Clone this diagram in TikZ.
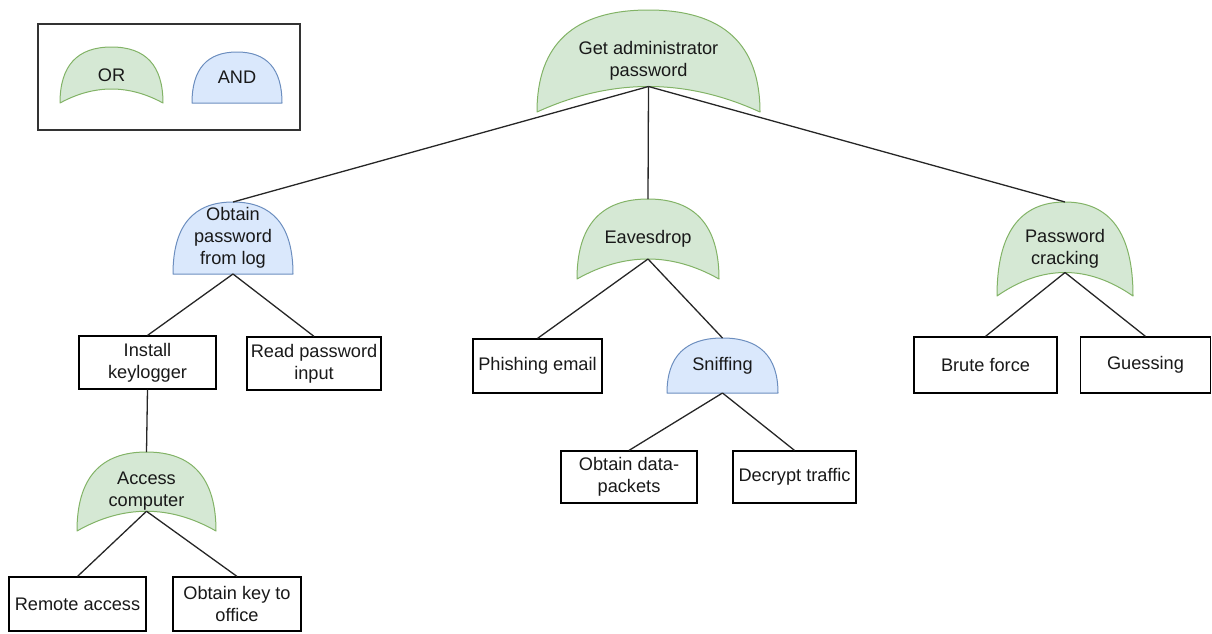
\documentclass[tikz,border=0pt]{standalone}
\usepackage{fontspec}
\setmainfont{Liberation Sans}
\definecolor{orfill}{HTML}{D5E8D4}
\definecolor{ordraw}{HTML}{82B366}
\definecolor{andfill}{HTML}{DAE8FC}
\definecolor{anddraw}{HTML}{6C8EBF}

% OR gate: dome with a concave base; #1 name, #2 left, #3 top, #4 right, #5 bottom, #6 text
\newcommand{\orgate}[6]{%
  \pgfmathsetmacro\gM{(#2+#4)/2}%
  \pgfmathsetmacro\gW{(#4-#2)/3}%
  \pgfmathsetmacro\gH{(#5-#3)/3}%
  \path[orstyle] (#2,#5) .. controls (#2,#5-2*\gH) and (\gM-\gW,#3) .. (\gM,#3)
    .. controls (\gM+\gW,#3) and (#4,#5-2*\gH) .. (#4,#5)
    .. controls (#4-\gW,#5-\gH) and (#2+\gW,#5-\gH) .. (#2,#5) -- cycle;
  \coordinate (#1-in) at (\gM,#3);
  \coordinate (#1-out) at (\gM,#5-0.75*\gH);
  \node[gatetext] (#1) at (\gM,{(#3+#5)/2}) {#6};%
}
% AND gate: dome with a flat base
\newcommand{\andgate}[6]{%
  \pgfmathsetmacro\gM{(#2+#4)/2}%
  \pgfmathsetmacro\gW{(#4-#2)/3}%
  \pgfmathsetmacro\gH{(#5-#3)/3}%
  \path[andstyle] (#2,#5) .. controls (#2,#5-2*\gH) and (\gM-\gW,#3) .. (\gM,#3)
    .. controls (\gM+\gW,#3) and (#4,#5-2*\gH) .. (#4,#5) -- cycle;
  \coordinate (#1-in) at (\gM,#3);
  \coordinate (#1-out) at (\gM,#5);
  \node[gatetext] (#1) at (\gM,{(#3+#5)/2}) {#6};%
}

\begin{document}
\begin{tikzpicture}[x=1pt,y=-1pt,
  txt/.style={font=\fontsize{18.2}{21.8}\selectfont, text=black!90, align=center, inner sep=0pt},
  gatetext/.style={txt},
  orstyle/.style={fill=orfill, draw=ordraw, line width=1pt, line join=round},
  andstyle/.style={fill=andfill, draw=anddraw, line width=1pt, line join=round},
  leaf/.style={txt, draw=black, fill=white, line width=1.2pt, rectangle},
  link/.style={draw=black!85, line width=1.3pt},
  legendbox/.style={draw=black!80, line width=1.5pt}]

\useasboundingbox (0,0) rectangle (1212,633);

% legend
\draw[legendbox] (38,24) rectangle (300,130);
\orgate{legor}{60}{47}{163}{103}{OR}
\andgate{legand}{192}{52}{282}{103}{AND}

% gates
\orgate{root}{537}{10}{760}{112}{Get administrator\\password}
\andgate{oplog}{173}{202}{293}{274}{Obtain\\password\\from log}
\orgate{eaves}{577}{199}{719}{279}{Eavesdrop}
\orgate{pcrack}{997}{202}{1133}{296}{Password\\cracking}
\andgate{sniff}{667}{338}{778}{393}{Sniffing}
\orgate{access}{77}{452}{216}{531}{Access\\computer}

% leaves
\node[leaf, minimum width=137pt, minimum height=53pt] (keylog) at (147.5,362.5) {Install\\keylogger};
\node[leaf, minimum width=134pt, minimum height=53pt] (readpw) at (314,363.5) {Read password\\input};
\node[leaf, minimum width=129pt, minimum height=54pt] (phish) at (537.5,366) {Phishing email};
\node[leaf, minimum width=136pt, minimum height=52pt] (packets) at (629,477) {Obtain data-\\packets};
\node[leaf, minimum width=123pt, minimum height=52pt] (decrypt) at (794.5,477) {Decrypt traffic};
\node[leaf, minimum width=143pt, minimum height=56pt] (brute) at (985.5,365) {Brute force};
\node[leaf, minimum width=130pt, minimum height=56pt] (guess) at (1145.5,365) {Guessing};
\node[leaf, minimum width=137pt, minimum height=54pt] (remote) at (77.5,604) {Remote access};
\node[leaf, minimum width=128pt, minimum height=54pt] (key) at (237,604) {Obtain key to\\office};

% connectors
\draw[link] (root-out) -- (oplog-in);
\draw[link] (root-out) -- (eaves-in);
\draw[link] (root-out) -- (pcrack-in);
\draw[link] (oplog-out) -- (keylog.north);
\draw[link] (oplog-out) -- (readpw.north);
\draw[link] (keylog.south) -- (access-in);
\draw[link] (access-out) -- (remote.north);
\draw[link] (access-out) -- (key.north);
\draw[link] (eaves-out) -- (phish.north);
\draw[link] (eaves-out) -- (sniff-in);
\draw[link] (sniff-out) -- (packets.north);
\draw[link] (sniff-out) -- (decrypt.north);
\draw[link] (pcrack-out) -- (brute.north);
\draw[link] (pcrack-out) -- (guess.north);
\end{tikzpicture}
\end{document}
